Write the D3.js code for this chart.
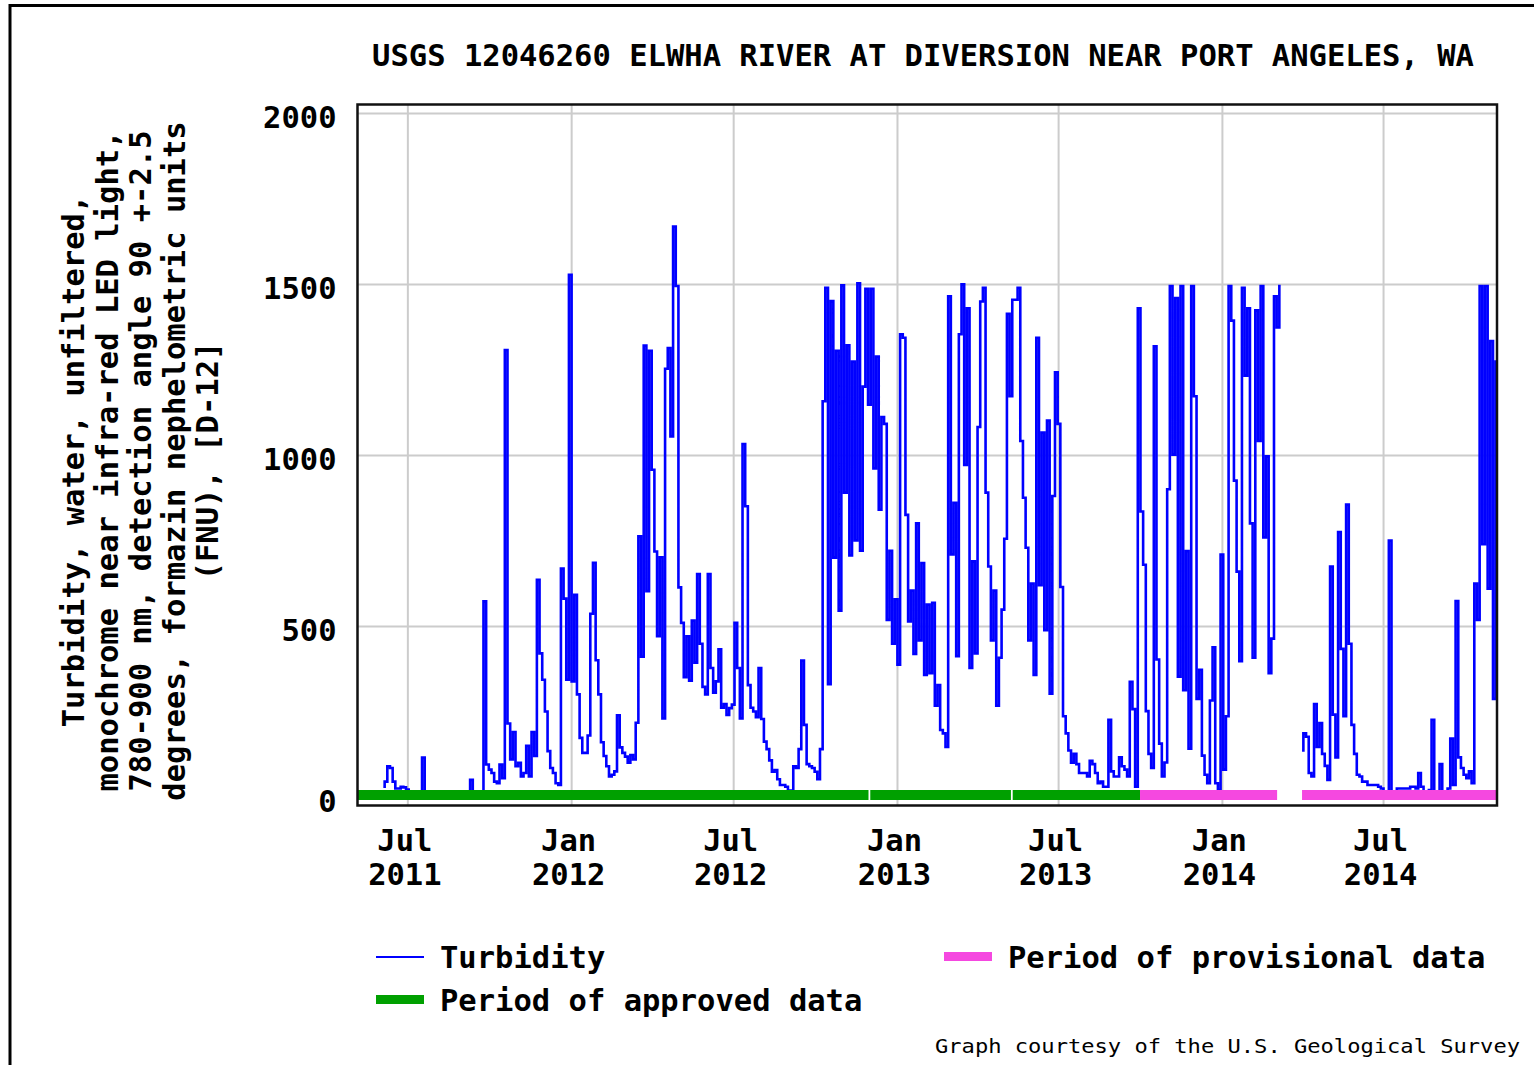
<!doctype html>
<html>
<head>
<meta charset="utf-8">
<title>USGS 12046260 turbidity</title>
<script src="https://cdn.jsdelivr.net/npm/d3@7"></script>
<style>
body { margin: 0; background: #fff; }
text { font-family: "DejaVu Sans Mono", monospace; font-weight: bold; fill: #000; }
</style>
</head>
<body>
<script>
// ---- data ----
var title = "USGS 12046260 ELWHA RIVER AT DIVERSION NEAR PORT ANGELES, WA";
var yLabelLines = [
    "Turbidity, water, unfiltered,",
    "monochrome near infra-red LED light,",
    "780-900 nm, detection angle 90 +-2.5",
    "degrees, formazin nephelometric units",
    "(FNU), [D-12]"
];
var yTicks = [0, 500, 1000, 1500, 2000];
var xTickDates = ["2011-07-01", "2012-01-01", "2012-07-01", "2013-01-01", "2013-07-01", "2014-01-01", "2014-07-01"];
var xTickMonths = ["Jul", "Jan", "Jul", "Jan", "Jul", "Jan", "Jul"];
var xTickYears = ["2011", "2012", "2012", "2013", "2013", "2014", "2014"];

// turbidity (FNU), one reading every 3 days from sampleStart, null = no record
var sampleStart = "2011-06-04";
var sampleStepDays = 3;
var turbidity = [
    30, 45, 90, 85, 45, 25, 25, 30, 28, 22,
    12, 5, 5, 5, 5, 115, 15, 5, 5, 5,
    5, 5, 5, 5, 5, 5, 5, 5, 5, 5,
    5, 5, 10, 50, 8, 5, 5, 5, 572, 95,
    80, 70, 45, 40, 95, 55, 1307, 215, 110, 190,
    90, 100, 60, 70, 150, 60, 190, 120, 635, 420,
    343, 250, 134, 85, 70, 40, 35, 668, 580, 343,
    1527, 338, 591, 300, 173, 129, 129, 180, 536, 685,
    400, 300, 160, 120, 90, 60, 65, 75, 239, 145,
    129, 118, 100, 123, 110, 217, 762, 410, 1320, 602,
    1305, 957, 718, 470, 701, 230, 1252, 1313, 1054, 1668,
    1494, 613, 509, 350, 470, 340, 516, 393, 652, 448,
    322, 300, 652, 377, 305, 338, 432, 261, 272, 240,
    260, 270, 509, 377, 230, 1032, 850, 327, 261, 250,
    233, 377, 228, 162, 140, 107, 74, 79, 52, 35,
    35, 30, 19, 19, 90, 85, 140, 399, 211, 96,
    90, 85, 74, 52, 140, 1157, 1489, 330, 1450, 700,
    1305, 545, 1496, 890, 1321, 706, 1273, 750, 1502, 720,
    1200, 1486, 1147, 1486, 961, 1288, 840, 1111, 1091, 518,
    720, 448, 578, 387, 1353, 1343, 825, 513, 604, 418,
    800, 458, 684, 357, 563, 362, 568, 267, 327, 196,
    186, 146, 1464, 709, 860, 412, 1353, 1499, 971, 1429,
    377, 689, 420, 1082, 1449, 1489, 890, 674, 458, 604,
    267, 407, 548, 755, 1413, 1172, 1454, 1454, 1489, 1041,
    875, 729, 458, 624, 357, 1343, 619, 1066, 488, 1101,
    302, 880, 1242, 1091, 614, 236, 186, 136, 100, 126,
    96, 70, 70, 70, 60, 106, 96, 70, 40, 45,
    30, 30, 226, 75, 60, 60, 116, 90, 80, 60,
    337, 257, 30, 1429, 835, 679, 251, 126, 85, 1318,
    402, 156, 60, 101, 900, 1494, 1001, 1459, 352, 1494,
    312, 719, 141, 1494, 1172, 287, 372, 121, 65, 40,
    282, 438, 40, 20, 709, 80, 236, 1494, 1393, 925,
    659, 397, 1489, 1232, 1429, 800, 407, 1423, 1041, 1494,
    759, 996, 362, 463, 1464, 1373, 1494, null, null, null,
    null, null, null, null, 136, 186, 176, 70, 60, 272,
    146, 216, 126, 91, 50, 674, 241, 116, 775, 433,
    236, 855, 448, 211, 126, 65, 60, 45, 45, 35,
    35, 35, 35, 30, 25, 15, 10, 750, 10, 10,
    25, 25, 25, 25, 25, 30, 30, 25, 70, 30,
    15, 15, 20, 226, 15, 15, 96, 15, 15, 25,
    171, 35, 573, 116, 85, 65, 55, 75, 40, 624,
    518, 1494, 739, 1494, 609, 1333, 287, 1273
];

var approvedPeriods = [["2011-05-06", "2012-11-30"], ["2012-12-02", "2013-05-09"], ["2013-05-11", "2013-10-01"]];
var provisionalPeriods = [["2013-10-01", "2014-03-04"], ["2014-04-01", "2014-11-06"]];
var xDomain = ["2011-05-06", "2014-11-06"];

var legendItems = [
    { label: "Turbidity", kind: "line", color: "#0000ff" },
    { label: "Period of approved data", kind: "bar", color: "#00a000" },
    { label: "Period of provisional data", kind: "bar", color: "#f548e0" }
];
var credit = "Graph courtesy of the U.S. Geological Survey";

// ---- drawing ----
var parse = d3.utcParse("%Y-%m-%d");
var fontSize = 30.5;

var svg = d3.select("body").append("svg")
    .attr("width", 1534)
    .attr("height", 1065);

// outer frame of the image
svg.append("rect")
    .attr("x", 10).attr("y", 5.5)
    .attr("width", 1700).attr("height", 1200)
    .attr("fill", "none").attr("stroke", "#000").attr("stroke-width", 3);

var plotLeft = 357.5, plotRight = 1497, plotTop = 104.5, plotBottom = 805.5;

var x = d3.scaleUtc()
    .domain(xDomain.map(parse))
    .range([plotLeft, plotRight]);

var y = d3.scaleLinear()
    .domain([0, 2000])
    .range([797, 113]);

// grid
svg.append("g")
    .attr("transform", "translate(0," + plotTop + ")")
    .call(d3.axisTop(x).tickValues(xTickDates.map(parse)).tickSize(-(plotBottom - plotTop)).tickFormat(""))
    .call(function(g) { g.select(".domain").remove(); })
    .selectAll("line").attr("stroke", "#cccccc").attr("stroke-width", 2);

svg.append("g")
    .attr("transform", "translate(" + plotLeft + ",0)")
    .call(d3.axisLeft(y).tickValues(yTicks.slice(1)).tickSize(-(plotRight - plotLeft)).tickFormat(""))
    .call(function(g) { g.select(".domain").remove(); })
    .selectAll("line").attr("stroke", "#cccccc").attr("stroke-width", 2);

// y axis labels
var yAxis = svg.append("g")
    .attr("transform", "translate(" + plotLeft + ",0)")
    .call(d3.axisLeft(y).tickValues(yTicks).tickSize(0).tickPadding(21).tickFormat(d3.format("d")));
yAxis.select(".domain").remove();
yAxis.attr("font-family", null).attr("font-size", null);
yAxis.selectAll("text").style("font-size", fontSize + "px").attr("dy", "0.46em");

// x axis labels (month over year)
var xAxis = svg.append("g")
    .attr("transform", "translate(0," + plotBottom + ")")
    .call(d3.axisBottom(x).tickValues(xTickDates.map(parse)).tickSize(0).tickFormat(""));
xAxis.select(".domain").remove();
xAxis.attr("font-family", null).attr("font-size", null);
xAxis.selectAll(".tick text")
    .attr("y", 0).attr("dy", null).attr("x", -3)
    .style("font-size", fontSize + "px")
    .each(function(d, i) {
        var t = d3.select(this);
        t.append("tspan").attr("x", -3).attr("y", 45).text(xTickMonths[i]);
        t.append("tspan").attr("x", -3).attr("y", 79).text(xTickYears[i]);
    });

// turbidity line
var start = parse(sampleStart);
var series = turbidity.map(function(v, i) {
    return { date: d3.utcDay.offset(start, i * sampleStepDays), value: v };
});

var line = d3.line()
    .defined(function(d) { return d.value !== null; })
    .x(function(d) { return x(d.date); })
    .y(function(d) { return y(d.value); })
    .curve(d3.curveStep);

svg.append("path")
    .datum(series)
    .attr("fill", "none")
    .attr("stroke", "#0000ff")
    .attr("stroke-width", 2.6)
    .attr("d", line);

// approval status bars
function periodBars(periods, color) {
    svg.append("g").selectAll("rect")
        .data(periods)
        .enter().append("rect")
        .attr("x", function(d) { return x(parse(d[0])); })
        .attr("width", function(d) { return x(parse(d[1])) - x(parse(d[0])); })
        .attr("y", 790)
        .attr("height", 10)
        .attr("fill", color);
}
periodBars(approvedPeriods, "#00a000");
periodBars(provisionalPeriods, "#f548e0");

// plot frame
svg.append("rect")
    .attr("x", plotLeft).attr("y", plotTop)
    .attr("width", plotRight - plotLeft).attr("height", plotBottom - plotTop)
    .attr("fill", "none").attr("stroke", "#111").attr("stroke-width", 2.5);

// title
svg.append("text")
    .attr("x", 923).attr("y", 66)
    .attr("text-anchor", "middle")
    .style("font-size", fontSize + "px")
    .text(title);

// y axis title
var yTitleX = [84, 118, 151, 185, 218];
svg.append("g").selectAll("text")
    .data(yLabelLines)
    .enter().append("text")
    .attr("transform", function(d, i) { return "translate(" + yTitleX[i] + ",461) rotate(-90)"; })
    .attr("text-anchor", "middle")
    .style("font-size", fontSize + "px")
    .text(function(d) { return d; });

// legend
var legendPos = [{ x: 376, y: 957 }, { x: 376, y: 1000 }, { x: 944, y: 957 }];
var lg = svg.append("g").selectAll("g")
    .data(legendItems)
    .enter().append("g")
    .attr("transform", function(d, i) { return "translate(" + legendPos[i].x + "," + legendPos[i].y + ")"; });

lg.filter(function(d) { return d.kind === "line"; })
    .append("line")
    .attr("x1", 0).attr("x2", 48)
    .attr("stroke", function(d) { return d.color; })
    .attr("stroke-width", 2);

lg.filter(function(d) { return d.kind === "bar"; })
    .append("rect")
    .attr("x", 0).attr("y", -5).attr("width", 48).attr("height", 9)
    .attr("fill", function(d) { return d.color; });

lg.append("text")
    .attr("x", 64).attr("y", 11)
    .style("font-size", fontSize + "px")
    .text(function(d) { return d.label; });

// credit
svg.append("text")
    .attr("x", 935).attr("y", 1053)
    .attr("textLength", 585)
    .attr("lengthAdjust", "spacingAndGlyphs")
    .style("font-size", "20px")
    .style("font-weight", "normal")
    .text(credit);
</script>
</body>
</html>
